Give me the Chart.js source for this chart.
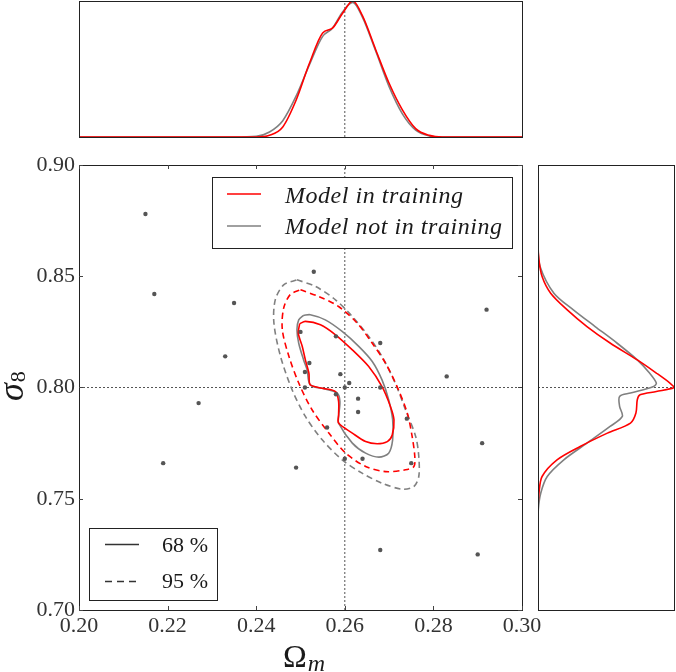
<!DOCTYPE html>
<html><head><meta charset="utf-8">
<script src="https://cdn.jsdelivr.net/npm/chart.js@4.4.0/dist/chart.umd.min.js"></script>
<style>
html,body{margin:0;padding:0;background:#fff;}
#wrap{position:relative;width:676px;height:672px;overflow:hidden;background:#fff;}
canvas{position:absolute;}
</style></head><body>
<div id="wrap">
<canvas id="main" width="676" height="672" style="left:0;top:0;"></canvas>
<canvas id="top" width="463" height="147" style="left:69px;top:0;"></canvas>
<canvas id="right" width="148" height="465" style="left:528px;top:155px;"></canvas>
</div>
<script>
// ---------- data ----------
const xTicks = [0.20, 0.22, 0.24, 0.26, 0.28, 0.30];
const yTicks = [0.70, 0.75, 0.80, 0.85, 0.90];
const fiducialOm = 0.26;
const fiducialS8 = 0.80;

// scatter of test models (Omega_m, sigma_8)
const dotsOm = [0.215,0.253,0.217,0.235,0.292,0.268,0.258,0.250,0.233,0.252,0.251,0.259,0.283,0.261,0.251,0.260,0.268,0.263,0.258,0.227,0.263,0.274,0.256,0.291,0.264,0.260,0.275,0.219,0.249,0.268,0.290];
const dotsS8 = [0.878,0.852,0.842,0.838,0.835,0.820,0.823,0.825,0.814,0.811,0.807,0.806,0.805,0.802,0.800,0.800,0.800,0.795,0.797,0.793,0.789,0.786,0.782,0.775,0.768,0.768,0.766,0.766,0.764,0.727,0.725];

// 95% contour, model not in training (grey dashed)
const grey95Om = [0.2492,0.2534,0.2579,0.2617,0.2654,0.2684,0.2714,0.2737,0.2760,0.2767,0.2767,0.2756,0.2729,0.2684,0.2639,0.2594,0.2549,0.2511,0.2481,0.2455,0.2440,0.2443,0.2462,0.2492];
const grey95S8 = [0.8484,0.8454,0.8394,0.8319,0.8229,0.8139,0.8019,0.7900,0.7780,0.7690,0.7600,0.7555,0.7543,0.7570,0.7615,0.7675,0.7765,0.7870,0.7990,0.8139,0.8289,0.8394,0.8461,0.8484];
// 95% contour, model in training (red dashed)
const red95Om = [0.2500,0.2541,0.2586,0.2628,0.2662,0.2692,0.2718,0.2741,0.2752,0.2758,0.2756,0.2737,0.2692,0.2647,0.2602,0.2564,0.2526,0.2496,0.2474,0.2459,0.2462,0.2477,0.2500];
const red95S8 = [0.8439,0.8409,0.8364,0.8289,0.8199,0.8109,0.8004,0.7885,0.7780,0.7690,0.7645,0.7630,0.7622,0.7645,0.7705,0.7795,0.7900,0.8020,0.8139,0.8259,0.8357,0.8418,0.8439];
// 68% contour, model not in training (grey solid)
const grey68Om = [0.2507,0.2522,0.2556,0.2594,0.2632,0.2662,0.2684,0.2699,0.2708,0.2708,0.2699,0.2677,0.2647,0.2617,0.2586,0.2586,0.2589,0.2583,0.2556,0.2522,0.2515,0.2507,0.2496,0.2492,0.2496,0.2507];
const grey68S8 = [0.8324,0.8327,0.8304,0.8252,0.8184,0.8117,0.8034,0.7945,0.7855,0.7765,0.7705,0.7687,0.7705,0.7750,0.7840,0.7870,0.7937,0.7975,0.7993,0.8012,0.8079,0.8124,0.8199,0.8259,0.8304,0.8324];
// 68% contour, model in training (red solid)
const red68Om = [0.2498,0.2511,0.2545,0.2579,0.2617,0.2654,0.2684,0.2703,0.2711,0.2707,0.2696,0.2673,0.2647,0.2617,0.2586,0.2586,0.2586,0.2579,0.2549,0.2522,0.2519,0.2511,0.2504,0.2495,0.2498];
const red68S8 = [0.8286,0.8297,0.8282,0.8237,0.8169,0.8094,0.8004,0.7915,0.7855,0.7787,0.7757,0.7747,0.7757,0.7795,0.7840,0.7877,0.7937,0.7982,0.7997,0.8012,0.8064,0.8124,0.8184,0.8244,0.8286];

// top marginal: Omega_m posterior (normalised)
const topOm   = [0.200,0.235,0.240,0.243,0.246,0.249,0.252,0.255,0.2572,0.2595,0.2618,0.264,0.267,0.270,0.273,0.276,0.2791,0.282,0.300];
const topRed  = [0,0,0,0.012,0.074,0.27,0.54,0.765,0.80,0.91,1.0,0.89,0.64,0.395,0.20,0.062,0.012,0,0];
const topGrey = [0,0,0.005,0.037,0.12,0.30,0.53,0.74,0.80,0.92,0.99,0.88,0.63,0.37,0.17,0.05,0.007,0,0];

// right marginal: sigma_8 posterior (normalised)
const rightRedS8   = [0.900,0.865,0.8574,0.8499,0.8424,0.8349,0.8274,0.8200,0.8124,0.8065,0.8020,0.8000,0.7982,0.7967,0.7945,0.7885,0.7840,0.7795,0.7735,0.7675,0.7600,0.7525,0.7450,0.700];
const rightRedD    = [0,0,0.007,0.03,0.093,0.215,0.36,0.53,0.73,0.87,0.97,1.0,0.87,0.75,0.73,0.72,0.68,0.51,0.31,0.14,0.03,0.007,0,0];
const rightGreyS8  = [0.900,0.8634,0.8544,0.8424,0.8349,0.8274,0.8200,0.8124,0.8065,0.8020,0.8005,0.7975,0.7960,0.7915,0.7870,0.7825,0.7750,0.7675,0.7600,0.7525,0.7450,0.7375,0.700];
const rightGreyD   = [0,0,0.015,0.117,0.26,0.42,0.58,0.73,0.82,0.87,0.85,0.68,0.60,0.60,0.62,0.53,0.36,0.19,0.068,0.02,0.002,0,0];

const legendModels = ['Model in training', 'Model not in training'];
const legendLevels = ['68 %', '95 %'];

// ---------- helpers ----------
const RED = '#ff0000', GREY = '#808080', REF = '#555555';
const pts = (xs, ys) => xs.map((x, i) => ({x, y: ys[i]}));
const serif = "'Liberation Serif', 'Times New Roman', serif";

const boxPlugin = {
  id: 'box',
  afterDraw(chart) {
    const {ctx, chartArea: a} = chart;
    ctx.save();
    ctx.strokeStyle = '#222';
    ctx.lineWidth = 1;
    ctx.strokeRect(Math.round(a.left) + 0.5, Math.round(a.top) + 0.5, Math.round(a.right - a.left), Math.round(a.bottom - a.top));
    ctx.restore();
  }
};

function fitText(ctx, text, x, y, target) {
  const w = ctx.measureText(text).width;
  if ('letterSpacing' in ctx && text.length > 1) {
    ctx.letterSpacing = ((target - w) / (text.length - 1)).toFixed(2) + 'px';
  }
  ctx.fillText(text, x, y);
  if ('letterSpacing' in ctx) ctx.letterSpacing = '0px';
}

const mainDecor = {
  id: 'mainDecor',
  afterDraw(chart) {
    const {ctx, chartArea: a, scales} = chart;
    ctx.save();
    // inward ticks
    ctx.strokeStyle = '#444';
    ctx.lineWidth = 1;
    ctx.beginPath();
    xTicks.forEach(v => {
      const px = Math.round(scales.x.getPixelForValue(v)) + 0.5;
      ctx.moveTo(px, a.bottom); ctx.lineTo(px, a.bottom - 4);
      ctx.moveTo(px, a.top); ctx.lineTo(px, a.top + 4);
    });
    yTicks.forEach(v => {
      const py = Math.round(scales.y.getPixelForValue(v)) + 0.5;
      ctx.moveTo(a.left, py); ctx.lineTo(a.left + 4, py);
      ctx.moveTo(a.right, py); ctx.lineTo(a.right - 4, py);
    });
    ctx.stroke();

    // legend 1 (models)
    ctx.fillStyle = '#fff';
    ctx.fillRect(212, 177, 300, 71);
    ctx.strokeStyle = '#222';
    ctx.strokeRect(212.5, 177.5, 300, 71);
    ctx.lineWidth = 1.6;
    ctx.strokeStyle = RED;
    ctx.beginPath(); ctx.moveTo(227, 194); ctx.lineTo(261, 194); ctx.stroke();
    ctx.strokeStyle = GREY;
    ctx.beginPath(); ctx.moveTo(227, 226); ctx.lineTo(261, 226); ctx.stroke();
    ctx.fillStyle = '#1a1a1a';
    ctx.textBaseline = 'alphabetic';
    ctx.textAlign = 'left';
    ctx.font = 'italic 24px ' + serif;
    fitText(ctx, legendModels[0], 285, 203, 178);
    fitText(ctx, legendModels[1], 285, 234, 217);

    // legend 2 (levels)
    ctx.fillStyle = '#fff';
    ctx.fillRect(89, 528, 128, 72);
    ctx.lineWidth = 1;
    ctx.strokeStyle = '#222';
    ctx.strokeRect(89.5, 528.5, 128, 72);
    ctx.lineWidth = 1.6;
    ctx.strokeStyle = '#333';
    ctx.beginPath(); ctx.moveTo(105, 544.5); ctx.lineTo(139, 544.5); ctx.stroke();
    ctx.setLineDash([7, 5]);
    ctx.beginPath(); ctx.moveTo(105, 581.5); ctx.lineTo(139, 581.5); ctx.stroke();
    ctx.setLineDash([]);
    ctx.fillStyle = '#1a1a1a';
    ctx.font = '22px ' + serif;
    fitText(ctx, legendLevels[0], 162, 552, 46);
    fitText(ctx, legendLevels[1], 162, 588, 46);

    // axis titles
    ctx.font = '32px ' + serif;
    ctx.fillText('Ω', 283, 667);
    const wO = ctx.measureText('Ω').width;
    ctx.font = 'italic 24px ' + serif;
    ctx.fillText('m', 283 + wO + 1, 671);

    ctx.translate(23, 401);
    ctx.rotate(-Math.PI / 2);
    ctx.font = 'italic 36px ' + serif;
    ctx.fillText('σ', 0, 0);
    const wS = ctx.measureText('σ').width;
    ctx.font = '22px ' + serif;
    ctx.fillText('8', wS + 1, 2);
    ctx.restore();
  }
};

const lineDs = (data, color, dash, width) => ({
  data, showLine: true, borderColor: color, borderWidth: width || 1.5,
  borderDash: dash || [], pointRadius: 0, tension: 0.3, fill: false
});

const hiddenScale = (min, max) => ({display: false, min, max, grid: {display: false}});

function build() {
// ---------- main chart ----------
new Chart(document.getElementById('main'), {
  type: 'scatter',
  data: {
    datasets: [
      {data: pts(dotsOm, dotsS8), pointRadius: 2.2, pointBackgroundColor: '#555', pointBorderWidth: 0, showLine: false},
      lineDs(pts(red68Om, red68S8), RED, [], 1.6),
      lineDs(pts(grey68Om, grey68S8), GREY, [], 1.6),
      lineDs(pts(red95Om, red95S8), RED, [6, 4], 1.6),
      lineDs(pts(grey95Om, grey95S8), GREY, [6, 4], 1.6),
      {data: [{x: fiducialOm, y: 0.70}, {x: fiducialOm, y: 0.90}], showLine: true, borderColor: REF, borderWidth: 1, borderDash: [2, 2], pointRadius: 0},
      {data: [{x: 0.20, y: fiducialS8}, {x: 0.30, y: fiducialS8}], showLine: true, borderColor: REF, borderWidth: 1, borderDash: [2, 2], pointRadius: 0}
    ]
  },
  options: {
    responsive: false, animation: false, devicePixelRatio: 1,
    layout: {padding: {left: 0, top: 165, right: 154, bottom: 0}},
    plugins: {legend: {display: false}, tooltip: {enabled: false}},
    scales: {
      x: {
        type: 'linear', min: 0.20, max: 0.30,
        grid: {display: false, drawTicks: false}, border: {display: false},
        ticks: {stepSize: 0.02, autoSkip: false, maxRotation: 0, padding: 3, color: '#333',
          font: {family: serif, size: 22}, callback: v => Number(v).toFixed(2)},
        afterFit: s => { s.height = 62; }
      },
      y: {
        type: 'linear', min: 0.70, max: 0.90,
        grid: {display: false, drawTicks: false}, border: {display: false},
        ticks: {stepSize: 0.05, autoSkip: false, padding: 4, color: '#333',
          font: {family: serif, size: 22}, callback: v => Number(v).toFixed(2)},
        afterFit: s => { s.width = 79; }
      }
    }
  },
  plugins: [boxPlugin, mainDecor]
});

// ---------- top marginal ----------
new Chart(document.getElementById('top'), {
  type: 'scatter',
  data: {
    datasets: [
      {data: pts(topOm, topRed), showLine: true, borderColor: RED, borderWidth: 1.6, pointRadius: 0, cubicInterpolationMode: 'monotone'},
      {data: pts(topOm, topGrey), showLine: true, borderColor: GREY, borderWidth: 1.6, pointRadius: 0, cubicInterpolationMode: 'monotone'},
      {data: [{x: fiducialOm, y: 0}, {x: fiducialOm, y: 1}], showLine: true, borderColor: REF, borderWidth: 1, borderDash: [2, 2], pointRadius: 0}
    ]
  },
  options: {
    responsive: false, animation: false, devicePixelRatio: 1,
    layout: {padding: {left: 10, right: 10, top: 1, bottom: 10}},
    plugins: {legend: {display: false}, tooltip: {enabled: false}},
    scales: {x: hiddenScale(0.20, 0.30), y: hiddenScale(0, 1)}
  },
  plugins: [boxPlugin]
});

// ---------- right marginal ----------
new Chart(document.getElementById('right'), {
  type: 'scatter',
  data: {
    datasets: [
      lineDs(pts(rightRedD, rightRedS8), RED, [], 1.6),
      lineDs(pts(rightGreyD, rightGreyS8), GREY, [], 1.6),
      {data: [{x: 0, y: fiducialS8}, {x: 1, y: fiducialS8}], showLine: true, borderColor: REF, borderWidth: 1, borderDash: [2, 2], pointRadius: 0}
    ]
  },
  options: {
    responsive: false, animation: false, devicePixelRatio: 1,
    layout: {padding: {left: 10, right: 2, top: 10, bottom: 10}},
    plugins: {legend: {display: false}, tooltip: {enabled: false}},
    scales: {x: hiddenScale(0, 1), y: hiddenScale(0.70, 0.90)}
  },
  plugins: [boxPlugin]
});
}

Promise.all([
  document.fonts.load("22px 'Liberation Serif'"),
  document.fonts.load("italic 24px 'Liberation Serif'")
]).then(build, build);
</script>
</body></html>
